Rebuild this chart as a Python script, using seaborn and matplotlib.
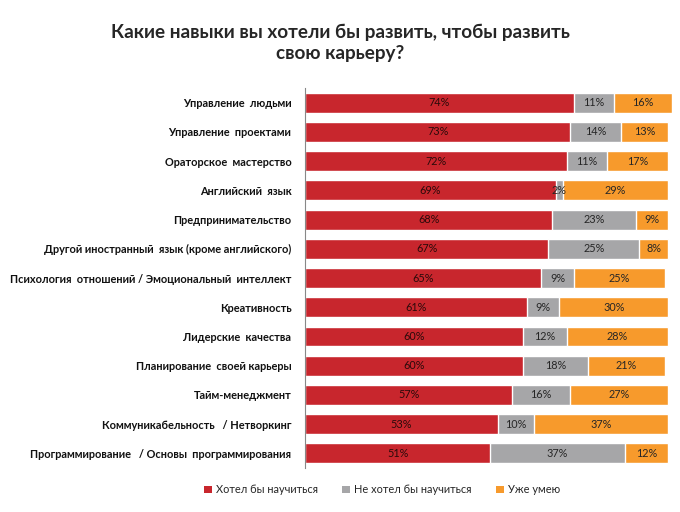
import numpy as np
import pandas as pd
import seaborn as sns
import matplotlib.pyplot as plt
from matplotlib.patches import Patch

skills = [
    "Управление  людьми",
    "Управление  проектами",
    "Ораторское  мастерство",
    "Английский  язык",
    "Предпринимательство",
    "Другой иностранный  язык (кроме английского)",
    "Психология  отношений / Эмоциональный  интеллект",
    "Креативность",
    "Лидерские  качества",
    "Планирование  своей карьеры",
    "Тайм-менеджмент",
    "Коммуникабельность   / Нетворкинг",
    "Программирование   / Основы  программирования",
]
want = [74, 73, 72, 69, 68, 67, 65, 61, 60, 60, 57, 53, 51]
dont_want = [11, 14, 11, 2, 23, 25, 9, 9, 12, 18, 16, 10, 37]
already = [16, 13, 17, 29, 9, 8, 25, 30, 28, 21, 27, 37, 12]
series_names = ["Хотел бы научиться", "Не хотел бы научиться", "Уже умею"]
colors = ["#C8262D", "#A6A6A8", "#F79A2C"]

df = pd.DataFrame({"skill": skills, "want": want, "dont": dont_want, "already": already})
df["c1"] = df["want"]
df["c2"] = df["want"] + df["dont"]
df["c3"] = df["c2"] + df["already"]

sns.set_style("white")
plt.rcParams["font.family"] = ["Lato", "DejaVu Sans"]

fig = plt.figure(figsize=(6.8, 5.12), dpi=100)
ax = fig.add_axes([0.449, 0.086, 0.539, 0.742])

# stacked look by overlaying cumulative totals
for col, c in zip(["c3", "c2", "c1"], colors[::-1]):
    sns.barplot(data=df, x=col, y="skill", color=c, width=0.68, ax=ax,
                saturation=1, orient="h")

for i, row in df.iterrows():
    ax.text(row["want"] / 2, i, f"{row['want']}%", ha="center", va="center",
            fontsize=7.8, color="#2a0a0a")
    ax.text(row["want"] + row["dont"] / 2, i, f"{row['dont']}%", ha="center",
            va="center", fontsize=7.8, color="#262626")
    ax.text(row["c2"] + row["already"] / 2, i, f"{row['already']}%", ha="center",
            va="center", fontsize=7.8, color="#262626")

ax.set_xlim(0, 101)
ax.set_ylim(len(skills) - 0.5, -0.5)
ax.set_xlabel("")
ax.set_ylabel("")
ax.set_xticks([])
ax.set_yticks(np.arange(len(skills)))
ax.set_yticklabels(skills, fontsize=7.9, fontweight="bold", color="#111111")
ax.tick_params(axis="y", length=0, pad=10)
# Excel-style ticks between categories
ax.set_yticks(np.arange(-0.5, len(skills), 1), minor=True)
ax.tick_params(axis="y", which="minor", length=4, color="#888888", direction="out")
for s in ["top", "right", "bottom"]:
    ax.spines[s].set_visible(False)
ax.spines["left"].set_color("#888888")
ax.spines["left"].set_linewidth(0.8)

fig.text(0.5, 0.917, "Какие навыки вы хотели бы развить, чтобы развить\nсвою карьеру?",
         ha="center", va="center", fontsize=13.6, fontweight="bold", linespacing=1.3)

handles = [Patch(facecolor=c, edgecolor="none") for c in colors]
fig.legend(handles, series_names, loc="center", bbox_to_anchor=(0.562, 0.043),
           ncol=3, frameon=False, fontsize=7.9, handlelength=0.7, handleheight=0.7,
           handletextpad=0.4, columnspacing=2.2)

fig.savefig("out.png", dpi=100)
